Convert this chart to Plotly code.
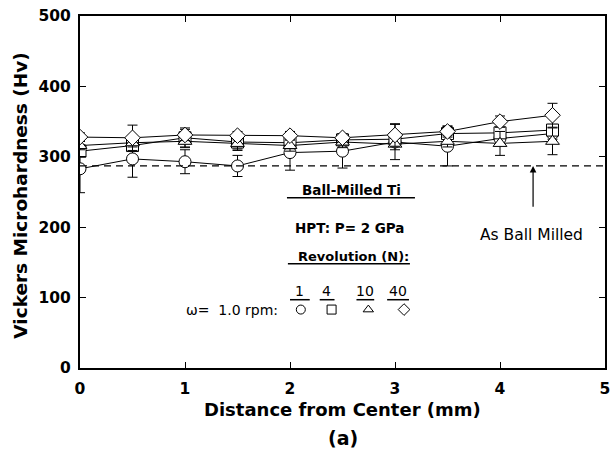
import plotly.graph_objects as go

# Distance from disk centre (mm)
distance = [0, 0.5, 1, 1.5, 2, 2.5, 3, 3.5, 4, 4.5]

# Vickers microhardness (Hv) for each number of HPT revolutions
hv_n1 = [283, 297, 293, 287, 306, 308, 321, 315, 326, 333]
hv_n4 = [308, 316, 327, 321, 320, 324, 325, 333, 334, 338]
hv_n10 = [316, 320, 322, 319, 316, 321, 318, 322, 319, 322]
hv_n40 = [328, 327, 331, 330, 330, 327, 331, 336, 350, 359]

# Error bar half-lengths (Hv)
err_n1 = [34, 26, 17, 15, 25, 24, 25, 28, 8, 8]
err_n4 = [8, 8, 14, 12, 8, 8, 8, 8, 8, 8]
err_n10 = [6, 6, 8, 8, 8, 8, 8, 8, 17, 19]
err_n40 = [6, 18, 8, 6, 6, 6, 16, 8, 8, 17]

revolutions = ["1", "4", "10", "40"]
symbols = ["circle", "square", "triangle-up", "diamond"]
series = [hv_n1, hv_n4, hv_n10, hv_n40]
errors = [err_n1, err_n4, err_n10, err_n40]

as_ball_milled = 287

FONT = "DejaVu Sans, Liberation Sans, Arial, sans-serif"

fig = go.Figure()

for vals, errs, sym in zip(series, errors, symbols):
    fig.add_trace(go.Scatter(
        x=distance, y=vals,
        mode="lines+markers",
        line=dict(color="black", width=1),
        marker=dict(symbol=sym, size=12, color="white",
                    line=dict(color="black", width=1)),
        error_y=dict(type="data", array=errs, visible=True,
                     color="black", thickness=1, width=5),
        showlegend=False, hoverinfo="skip",
    ))

# Reference hardness of the as-milled powder
fig.add_shape(type="line", xref="x", yref="y", x0=0, x1=5,
              y0=as_ball_milled, y1=as_ball_milled,
              line=dict(color="black", width=1.3, dash="7px,5px"))

fig.add_annotation(x=4.315, y=as_ball_milled, ax=4.315, ay=227,
                   xref="x", yref="y", axref="x", ayref="y",
                   showarrow=True, arrowhead=2, arrowsize=1.1,
                   arrowwidth=1.2, arrowcolor="black", text="")
fig.add_annotation(x=4.296, y=189, xref="x", yref="y", showarrow=False,
                   text="As Ball Milled",
                   font=dict(family=FONT, size=15.5, color="black"))

# Key block
fig.add_annotation(x=2.588, y=253, xref="x", yref="y", showarrow=False,
                   text="<b>Ball-Milled Ti</b>",
                   font=dict(family=FONT, size=13.5, color="black"))
fig.add_shape(type="line", xref="x", yref="y", x0=1.971, x1=3.19,
              y0=242, y1=242, line=dict(color="black", width=1.5))
fig.add_annotation(x=2.566, y=199, xref="x", yref="y", showarrow=False,
                   text="<b>HPT: P= 2 GPa</b>",
                   font=dict(family=FONT, size=13.5, color="black"))
fig.add_annotation(x=2.604, y=158, xref="x", yref="y", showarrow=False,
                   text="<b>Revolution (N):</b>",
                   font=dict(family=FONT, size=13, color="black"))
fig.add_shape(type="line", xref="x", yref="y", x0=1.98, x1=3.142,
              y0=148, y1=148, line=dict(color="black", width=1.5))

label_x = [2.094, 2.349, 2.718, 3.029]
underline_x0 = [2.0, 2.283, 2.633, 2.925]
underline_x1 = [2.188, 2.424, 2.802, 3.133]
symbol_x = [2.103, 2.396, 2.746, 3.086]

for lx, u0, u1, lab in zip(label_x, underline_x0, underline_x1, revolutions):
    fig.add_annotation(x=lx, y=109, xref="x", yref="y", showarrow=False,
                       text=lab, font=dict(family=FONT, size=14, color="black"))
    fig.add_shape(type="line", xref="x", yref="y", x0=u0, x1=u1,
                  y0=97, y1=97, line=dict(color="black", width=1.5))

fig.add_trace(go.Scatter(
    x=symbol_x, y=[83] * len(symbol_x), mode="markers",
    marker=dict(symbol=symbols, size=9, color="white",
                line=dict(color="black", width=1)),
    showlegend=False, hoverinfo="skip", cliponaxis=False,
))
fig.add_annotation(x=1.446, y=82, xref="x", yref="y", showarrow=False,
                   text="ω=  1.0 rpm:",
                   font=dict(family=FONT, size=14, color="black"))

# Axis titles
fig.add_annotation(x=0.5, y=-0.117, xref="paper", yref="paper",
                   showarrow=False, yanchor="middle",
                   text="<b>Distance from Center (mm)</b>",
                   font=dict(family=FONT, size=18, color="black"))
fig.add_annotation(x=0.5, y=-0.2, xref="paper", yref="paper",
                   showarrow=False, yanchor="middle", text="<b>(a)</b>",
                   font=dict(family=FONT, size=19, color="black"))
fig.add_annotation(x=-0.114, y=0.49, xref="paper", yref="paper",
                   showarrow=False, xanchor="center", yanchor="middle",
                   textangle=-90, text="<b>Vickers Microhardness (Hv)</b>",
                   font=dict(family=FONT, size=18.5, color="black"))

axis_common = dict(
    showline=True, linecolor="black", linewidth=2, mirror="ticks",
    ticks="inside", ticklen=6, tickwidth=1.2, tickcolor="black",
    showgrid=False, zeroline=False, ticklabeloverflow="allow",
    tickfont=dict(family=FONT, size=15.5, color="black"),
    tickprefix="<b>", ticksuffix="</b>",
)

fig.update_xaxes(range=[0, 5], dtick=1, ticklabelstandoff=5, **axis_common)
fig.update_yaxes(range=[0, 500], dtick=100, ticklabelstandoff=4,
                 **axis_common)

fig.update_layout(
    width=612, height=456,
    margin=dict(l=80, r=2, t=16, b=88),
    plot_bgcolor="white", paper_bgcolor="white",
)

fig.write_html("out.html")
